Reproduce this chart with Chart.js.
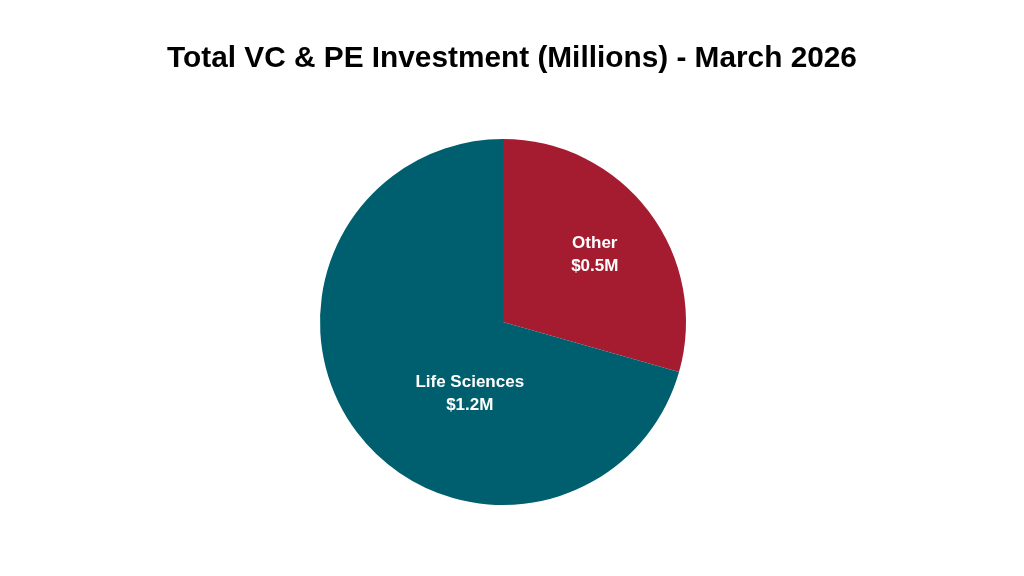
<!DOCTYPE html>
<html>
<head>
<meta charset="utf-8">
<script src="https://cdn.jsdelivr.net/npm/chart.js@4/dist/chart.umd.min.js"></script>
<style>
  html, body { margin: 0; padding: 0; background: #ffffff; }
  #wrap { width: 1024px; height: 576px; position: relative; }
</style>
</head>
<body>
<div id="wrap"><canvas id="c" width="1024" height="576"></canvas></div>
<script>
const chartTitle = "Total VC & PE Investment (Millions) - March 2026";
const categories = ["Other", "Life Sciences"];
const values = [0.5, 1.2];
const valueLabels = ["$0.5M", "$1.2M"];
const colors = ["#A51C30", "#005F6F"];
// label anchor inside each slice: fraction along the slice's angle, fraction of radius
const labelAngleFrac = [0.51, 0.39];
const labelRadiusFrac = [0.62, 0.43];

const titlePlugin = {
  id: 'customTitle',
  afterDraw(chart) {
    const ctx = chart.ctx;
    ctx.save();
    ctx.font = 'bold 29.8px "Liberation Sans", Arial, sans-serif';
    ctx.fillStyle = '#000000';
    ctx.textAlign = 'center';
    ctx.textBaseline = 'middle';
    ctx.fillText(chartTitle, chart.width / 2, 59);
    ctx.restore();
  }
};

const sliceLabels = {
  id: 'sliceLabels',
  afterDatasetsDraw(chart) {
    const ctx = chart.ctx;
    const meta = chart.getDatasetMeta(0);
    ctx.save();
    ctx.font = 'bold 17px "Liberation Sans", Arial, sans-serif';
    ctx.fillStyle = '#ffffff';
    ctx.textAlign = 'center';
    ctx.textBaseline = 'middle';
    meta.data.forEach((arc, i) => {
      const p = arc.getProps(['x', 'y', 'startAngle', 'endAngle', 'outerRadius'], true);
      const a = p.startAngle + (p.endAngle - p.startAngle) * labelAngleFrac[i];
      const r = p.outerRadius * labelRadiusFrac[i];
      const x = p.x + Math.cos(a) * r;
      const y = p.y + Math.sin(a) * r;
      ctx.fillText(categories[i], x, y - 11.5);
      ctx.fillText(valueLabels[i], x, y + 11.5);
    });
    ctx.restore();
  }
};

new Chart(document.getElementById('c'), {
  type: 'pie',
  data: {
    labels: categories,
    datasets: [{
      data: values,
      backgroundColor: colors,
      borderWidth: 0
    }]
  },
  options: {
    responsive: false,
    animation: false,
    layout: { padding: { top: 139, bottom: 71, left: 0, right: 18 } },
    plugins: {
      legend: { display: false },
      title: { display: false },
      tooltip: { enabled: false }
    }
  },
  plugins: [titlePlugin, sliceLabels]
});
</script>
</body>
</html>
